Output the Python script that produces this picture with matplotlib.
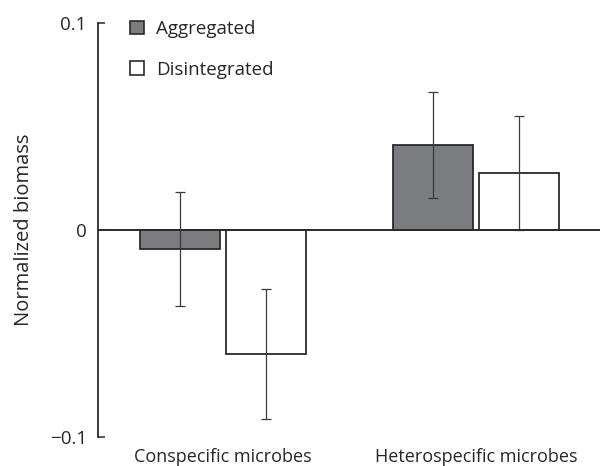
import matplotlib.pyplot as plt
import numpy as np
from matplotlib.patches import Patch

plt.rcParams['font.family'] = ['Open Sans', 'DejaVu Sans']
plt.rcParams['axes.unicode_minus'] = True

GROUPS = ['Conspecific microbes', 'Heterospecific microbes']
SERIES = ['Aggregated', 'Disintegrated']
MEANS = {'Aggregated': [-0.0092, 0.041], 'Disintegrated': [-0.060, 0.0277]}
ERRS = {'Aggregated': [0.0275, 0.0255], 'Disintegrated': [0.0315, 0.0275]}
COLORS = {'Aggregated': '#7b7c80', 'Disintegrated': 'white'}

TXT = '#262626'
EDGE = '#2a2a2a'
FS = 13.5

fig = plt.figure(figsize=(6, 4.66), dpi=100)
ax = fig.add_axes([0.163, 0.0622, 0.837, 0.8884])

x = np.arange(len(GROUPS))
w = 0.316
offs = [-0.17, 0.17]
for s, o in zip(SERIES, offs):
    ax.bar(x + o, MEANS[s], w, color=COLORS[s], edgecolor=EDGE, linewidth=1.3, zorder=2)
    ax.errorbar(x + o, MEANS[s], yerr=ERRS[s], fmt='none', ecolor='#3a3a3a',
                elinewidth=0.9, capsize=3.5, capthick=0.9, zorder=3)

ax.axhline(0, color=EDGE, lw=1.4, zorder=4)

ax.set_xlim(-0.494, 1.49)
ax.set_ylim(-0.1, 0.1)
ax.set_yticks([-0.1, 0, 0.1])
ax.set_yticklabels(['\u22120.1', '0', '0.1'])
ax.set_xticks(x)
ax.set_xticklabels(GROUPS)
ax.tick_params(axis='x', length=0, pad=8, labelsize=13, labelcolor=TXT)
ax.tick_params(axis='y', direction='in', length=5, width=1.1, color=EDGE,
               pad=8, labelsize=FS, labelcolor=TXT)
for sp in ['top', 'right', 'bottom']:
    ax.spines[sp].set_visible(False)
ax.spines['left'].set_color(EDGE)
ax.spines['left'].set_linewidth(1.3)
ax.set_ylabel('Normalized biomass', fontsize=14.5, color=TXT, labelpad=11)

handles = [Patch(facecolor=COLORS[s], edgecolor=EDGE, linewidth=1.2) for s in SERIES]
ax.legend(handles, SERIES, loc='upper left', bbox_to_anchor=(0.03, 1.048), frameon=False,
          fontsize=FS, handlelength=0.75, handleheight=0.75, handletextpad=0.65,
          labelspacing=1.2, labelcolor=TXT)

fig.savefig('out.png', dpi=100)
